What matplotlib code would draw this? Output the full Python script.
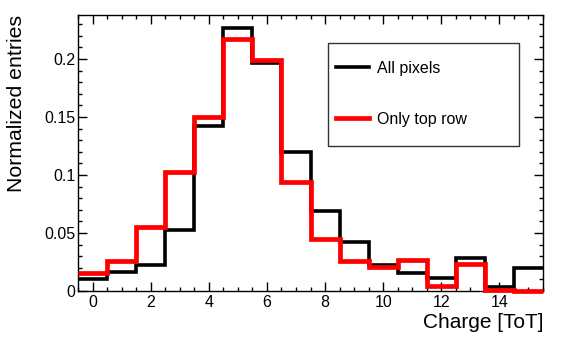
import numpy as np
import matplotlib
matplotlib.use("Agg")
from matplotlib import pyplot as plt
from matplotlib.patches import Rectangle
from matplotlib.ticker import MultipleLocator, FuncFormatter

plt.rcParams['font.family'] = ['Liberation Sans', 'DejaVu Sans']

# bin edges: one bin per ToT value, 0..15
edges = np.arange(-0.5, 16.0, 1.0)

all_pixels = [0.010, 0.0167, 0.0224, 0.053, 0.142, 0.227, 0.1966, 0.120,
              0.069, 0.042, 0.0224, 0.0153, 0.011, 0.028, 0.003, 0.020]
top_row = [0.0153, 0.026, 0.0555, 0.103, 0.1496, 0.2175, 0.199, 0.094,
           0.045, 0.026, 0.021, 0.0265, 0.0043, 0.023, 0.0005, 0.0]

fig = plt.figure(figsize=(5.67, 3.57), dpi=100)
ax = fig.add_axes([0.1376, 0.185, 0.8201, 0.773])

ax.stairs(all_pixels, edges, baseline=None, color='black', lw=2.6,
          label='All pixels', clip_on=False, zorder=3)
ax.stairs(top_row, edges, baseline=None, color='#ff0000', lw=3.4,
          label='Only top row', clip_on=False, zorder=4)

ax.set_xlim(-0.5, 15.5)
ax.set_ylim(0, 0.238)

ax.xaxis.set_major_locator(MultipleLocator(2))
ax.xaxis.set_minor_locator(MultipleLocator(0.5))
ax.yaxis.set_major_locator(MultipleLocator(0.05))
ax.yaxis.set_minor_locator(MultipleLocator(0.01))
ax.yaxis.set_major_formatter(FuncFormatter(lambda v, p: '%g' % round(v, 3)))

ax.tick_params(which='both', direction='in', top=True, right=True,
               width=1, labelsize=11.5)
ax.tick_params(which='major', length=6.5)
ax.tick_params(which='minor', length=3.2)
ax.tick_params(axis='x', pad=3)
ax.tick_params(axis='y', pad=2)
for s in ax.spines.values():
    s.set_linewidth(1)

ax.set_xlabel('Charge [ToT]', fontsize=15, loc='right', labelpad=2)
ax.set_ylabel('Normalized entries', fontsize=15.3, loc='top', labelpad=13)

# legend box (ROOT TLegend style): frame drawn separately
ax.add_patch(Rectangle((0.538, 0.525), 0.41, 0.374, transform=ax.transAxes,
                       facecolor='white', edgecolor='#333333', lw=1,
                       zorder=5))
leg = ax.legend(bbox_to_anchor=(0.555, 0.833), loc='upper left',
                borderaxespad=0, borderpad=0, fontsize=11.5,
                handlelength=2.06, handletextpad=0.5, labelspacing=2.25,
                frameon=False)
leg.set_zorder(6)

fig.savefig('out.png', dpi=100)
